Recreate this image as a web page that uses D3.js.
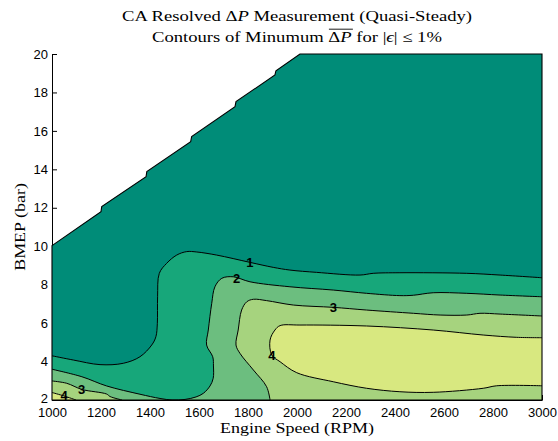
<!DOCTYPE html>
<html><head><meta charset="utf-8">
<script src="https://cdn.jsdelivr.net/npm/d3@7"></script>
<style>body{margin:0;background:#fff;} svg{display:block;}</style>
</head><body>
<svg id="chart" width="558" height="441"></svg>
<script>
// ---- data ----
const xTicks = [1000,1200,1400,1600,1800,2000,2200,2400,2600,2800,3000];
const yTicks = [2,4,6,8,10,12,14,16,18,20];
const levels = [0,1,2,3,4];
const levelColors = ["#008c78","#17a77a","#6cbe7f","#a6d37e","#d8e880"];

// upper-left edge of measured region (rpm, bmep)
const boundary = [[1000,10.03],[1200,11.80],[1203,12.06],[1384,13.62],[1387,13.88],
  [1566,15.44],[1570,15.70],[1747,17.26],[1751,17.52],[1910,18.91],[1914,19.13],[2012,20]];

// contour level 1 (left edge -> right edge)
const contour1 = [[1000,4.30],[1087,4.08],[1196,3.84],[1291,3.91],[1359,4.25],[1407,4.86],
  [1424,5.29],[1430,5.99],[1431,7.37],[1438,8.59],[1468,9.11],[1509,9.54],[1550,9.72],
  [1591,9.70],[1672,9.54],[1808,9.16],[1903,8.90],[1971,8.76],[2080,8.64],[2257,8.50],
  [2311,8.59],[2420,8.62],[2693,8.59],[2829,8.50],[3000,8.36]];
// contour level 2 (left edge -> touches bottom -> right edge)
const contour2 = [[1000,3.60],[1122,3.21],[1223,2.73],[1359,2.30],[1441,2.08],[1490,2.0],
  [1543,2.03],[1588,2.16],[1618,2.35],[1645,2.73],[1658,3.13],[1659,3.77],[1656,4.25],
  [1631,4.86],[1638,5.64],[1652,7.03],[1665,7.89],[1693,8.33],[1740,8.41],[1808,8.15],
  [1971,7.89],[2148,7.72],[2284,7.55],[2420,7.43],[2475,7.45],[2556,7.58],[2693,7.55],
  [2829,7.46],[3000,7.37]];
// contour level 3
const contour3a = [[1000,2.99],[1060,2.87],[1122,2.55],[1223,2.31],[1237,2.18],[1286,2.0]];
const contour3b = [[1890,2.0],[1876,2.69],[1822,3.56],[1767,4.43],[1751,4.86],[1760,5.64],
  [1774,6.68],[1795,7.11],[1822,7.24],[1876,7.17],[1985,6.94],[2148,6.82],[2284,6.68],
  [2475,6.51],[2584,6.42],[2693,6.42],[2747,6.51],[2829,6.47],[3000,6.37]];
// contour level 4
const contour4a = [[1000,2.39],[1049,2.21],[1098,2.0]];
const contour4b = [[3000,5.24],[2897,5.26],[2760,5.38],[2556,5.64],[2284,5.85],[2012,5.90],
  [1931,5.87],[1910,5.64],[1890,5.12],[1897,4.34],[1931,3.99],[1999,3.42],[2148,2.95],
  [2284,2.61],[2420,2.43],[2556,2.40],[2760,2.61],[2815,2.74],[3000,2.74]];

// inline contour labels
const labelText = ["1","2","3","4","3","4"];
const labelRpm  = [1808,1754,2148,1897,1121,1049];
const labelBmep = [9.18,8.33,6.82,4.34,2.56,2.22];

// ---- drawing ----
const svg = d3.select("#chart");
const x = d3.scaleLinear().domain([1000,3000]).range([52,542]);
const y = d3.scaleLinear().domain([2,20]).range([400,54]);

const sansFont = "'Liberation Sans', Arial, Helvetica, sans-serif";
const serifFont = "'Liberation Serif', 'Times New Roman', serif";

// axes (drawn beneath the filled contours, like MATLAB)
const xAxis = svg.append("g").attr("transform", `translate(0,${y(2)})`)
  .call(d3.axisBottom(x).tickValues(xTicks).tickFormat(d3.format("d"))
    .tickSizeInner(-5).tickSizeOuter(0).tickPadding(7.5));
const yAxis = svg.append("g").attr("transform", `translate(${x(1000)},0)`)
  .call(d3.axisLeft(y).tickValues(yTicks).tickFormat(d3.format("d"))
    .tickSizeInner(-5).tickSizeOuter(0).tickPadding(4));
[xAxis, yAxis].forEach(a => {
  a.selectAll("path.domain").attr("stroke", "#000").attr("stroke-width", 1);
  a.selectAll(".tick line").attr("stroke", "#000");
  a.selectAll(".tick text").attr("fill", "#000")
    .style("font-family", sansFont).style("font-size", "13px");
});
// lowest y label sits a little above the corner
yAxis.selectAll(".tick text").filter(d => d === yTicks[0]).attr("y", -2);

// clip to plot area
svg.append("clipPath").attr("id", "plotclip").append("rect")
  .attr("x", x(1000)).attr("y", y(20)).attr("width", x(3000) - x(1000)).attr("height", y(2) - y(20));

const plot = svg.append("g").attr("clip-path", "url(#plotclip)");
const curve = d3.line().x(d => x(d[0])).y(d => y(d[1])).curve(d3.curveCatmullRom.alpha(0.5));
const poly = d3.line().x(d => x(d[0])).y(d => y(d[1]));
const P = (r, b) => `L${x(r)},${y(b)}`;

// region of valid data
const validPts = boundary.concat([[3000,20],[3000,2],[1000,2]]);
const validPath = poly(validPts) + "Z";

const regions = [
  { level: 0, d: validPath },
  { level: 1, d: curve(contour1) + P(3000,2) + P(1000,2) + "Z" },
  { level: 2, d: curve(contour2) + P(3000,2) + P(1000,2) + "Z" },
  { level: 3, d: curve(contour3a) + P(1000,2) + "Z" },
  { level: 3, d: curve(contour3b) + P(3000,2) + "Z" },
  { level: 4, d: curve(contour4a) + P(1000,2) + "Z" },
  { level: 4, d: curve(contour4b) + "Z" }
];
plot.selectAll("path.fill").data(regions).join("path").attr("class", "fill")
  .attr("d", d => d.d)
  .attr("fill", d => levelColors[levels.indexOf(d.level)])
  .attr("stroke", "none");

// contour lines
const lines = [contour1, contour2, contour3a, contour3b, contour4a, contour4b];
plot.selectAll("path.cline").data(lines).join("path").attr("class", "cline")
  .attr("d", d => curve(d)).attr("fill", "none").attr("stroke", "#000").attr("stroke-width", 1);
// outline of the valid region
svg.append("path").attr("d", validPath).attr("fill", "none")
  .attr("stroke", "#000").attr("stroke-width", 1.1);

// contour labels
svg.selectAll("text.clabel").data(labelText).join("text").attr("class", "clabel")
  .attr("x", (d, i) => x(labelRpm[i])).attr("y", (d, i) => y(labelBmep[i]))
  .attr("text-anchor", "middle").attr("dy", "0.36em")
  .style("font-family", sansFont).style("font-size", "13px").style("font-weight", "bold")
  .attr("fill", "#000").text(d => d);

// serif (LaTeX-like) texts
function serifText(parts, cx, by, size) {
  const g = svg.append("g");
  const t = g.append("text").attr("text-anchor", "middle")
    .style("font-family", serifFont).style("font-size", size + "px").attr("fill", "#000");
  parts.forEach(p => {
    const s = t.append("tspan").text(p.t);
    if (p.i) s.style("font-style", "italic");
  });
  return { g, t, cx, by };
}
const xl = serifText([{t:"Engine Speed (RPM)"}], x(2000), 433, 14.5);
const sx = 154 / xl.t.node().getComputedTextLength();

const yl = serifText([{t:"BMEP (bar)"}], 24.5, 0, 14.5);
const t1 = serifText([{t:"CA Resolved "},{t:"Δ"},{t:"P",i:true},{t:" Measurement (Quasi-Steady)"}], x(2000), 21, 15);
const t2 = serifText([{t:"Contours of Minumum "},{t:"Δ"},{t:"P",i:true},{t:" for |"},{t:"ϵ",i:true},{t:"| ≤ 1%"}], x(2000), 42, 15);

[xl, t1, t2].forEach(o => o.g.attr("transform", `translate(${o.cx},${o.by}) scale(${sx},1)`));
yl.g.attr("transform", `translate(${yl.cx},${(y(2)+y(20))/2}) rotate(-90) scale(${sx},1)`);

// overline over ΔP in the second title line
{
  const node = t2.t.node();
  const i0 = "Contours of Minumum ".length;
  const a = node.getStartPositionOfChar(i0).x;
  const b = node.getEndPositionOfChar(i0 + 1).x;
  t2.g.append("line").attr("x1", a + 0.5).attr("x2", b + 1).attr("y1", -12.8).attr("y2", -12.8)
    .attr("stroke", "#000").attr("stroke-width", 0.8);
}
</script>
</body></html>
